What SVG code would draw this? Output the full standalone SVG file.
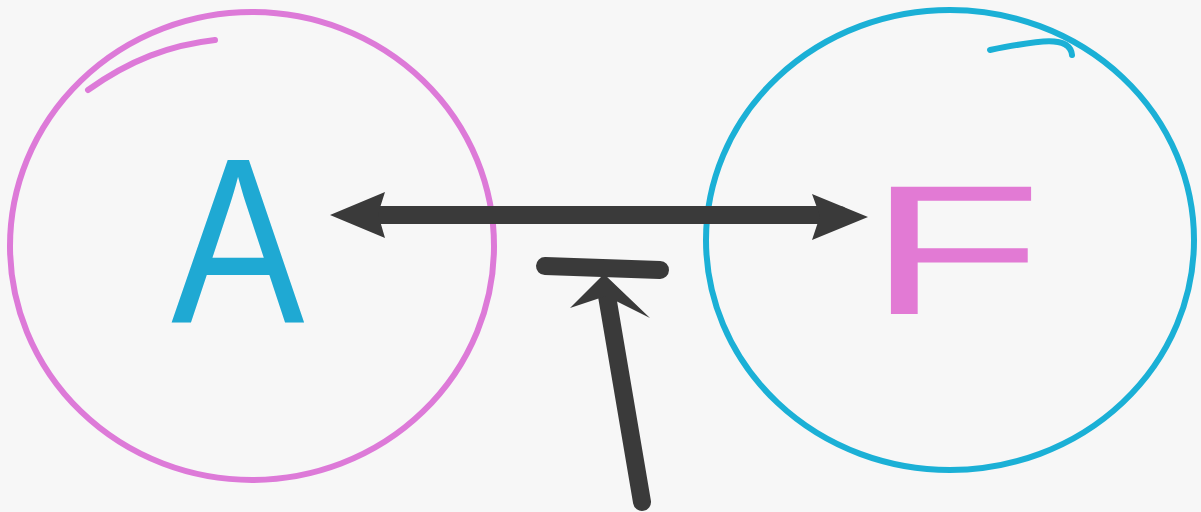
<svg xmlns="http://www.w3.org/2000/svg" width="1201" height="512" viewBox="0 0 1201 512">
<defs>
<style>
.bg{fill:#f7f7f7}
.ring{fill:none;stroke-width:6;stroke-linecap:round}
.ink{stroke:#3a3a3a;stroke-width:18;stroke-linecap:round;stroke-linejoin:round;fill:none}
.head{fill:#3a3a3a}
.lbl{font-family:"Liberation Sans",Arial,sans-serif;text-anchor:middle}
</style>
</defs>
<rect class="bg" x="0" y="0" width="1201" height="512"/>
<g id="node-A">
<ellipse class="ring" cx="252" cy="246" rx="242" ry="234" stroke="#dd7ad8"/>
<path class="ring" d="M88 90 C130 60 170 45 215 40" stroke="#dd7ad8"/>
<text class="lbl" x="238" y="322" font-size="235" fill="#1fa9d3" transform="translate(238 0) scale(0.85 1) translate(-238 0)">A</text>
</g>
<g id="node-F">
<ellipse class="ring" cx="950" cy="240" rx="244" ry="230" stroke="#1bb0d6"/>
<path class="ring" d="M990 50 C1040 40 1070 35 1072 55" stroke="#1bb0d6"/>
<text class="lbl" x="955" y="314" font-size="185" fill="#e27ad4" transform="translate(955 0) scale(1.55 1) translate(-955 0)">F</text>
</g>
<g id="connectors">
<path class="ink" d="M360 215 L840 215"/>
<path class="head" d="M330 215 L385 192 L378 214 L385 238 Z"/>
<path class="head" d="M868 217 L812 194 L820 216 L812 240 Z"/>
<path class="ink" d="M642 502 L606 290"/>
<path class="ink" d="M545 266 L660 270"/>
<path class="head" d="M604 274 L570 308 L606 296 L650 318 Z"/>
</g>
</svg>
